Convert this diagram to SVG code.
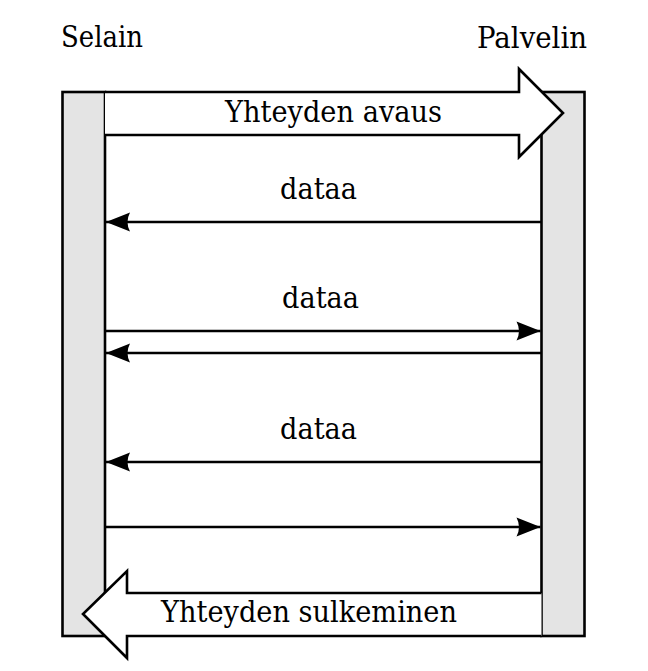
<svg xmlns="http://www.w3.org/2000/svg" width="648" height="671" viewBox="0 0 648 671">
<style>
  .t { font-family: 'DejaVu Serif', 'Liberation Serif', serif; font-size: 29px; fill: #000; }
  .bar { fill: #e4e4e4; stroke: #000; stroke-width: 2.6; }
  .ln { stroke: #000; stroke-width: 2.6; fill: none; }
  .big { fill: #fff; stroke: #000; stroke-width: 2.6; stroke-linejoin: miter; }
</style>
<defs>
  <marker id="ah" viewBox="-25 -10 26 20" refX="0" refY="0" markerWidth="26" markerHeight="20" markerUnits="userSpaceOnUse" orient="auto">
    <path d="M0,0 L-24,-9.5 Q-19,0 -24,9.5 Z" fill="#000"/>
  </marker>
</defs>
<g id="selain">
  <rect class="bar" x="62.5" y="92" width="42.5" height="544"/>
  <text class="t" x="61" y="47" textLength="82" lengthAdjust="spacingAndGlyphs">Selain</text>
</g>
<g id="palvelin">
  <rect class="bar" x="541.5" y="92" width="43" height="544"/>
  <text class="t" x="477" y="48" textLength="110" lengthAdjust="spacingAndGlyphs">Palvelin</text>
</g>
<g id="connectors">
  <g id="avaus">
    <path class="big" d="M105,92 L519,92 L519,69 L563,113 L519,157 L519,135 L105,135"/>
    <text class="t" x="225" y="122" textLength="217" lengthAdjust="spacingAndGlyphs">Yhteyden avaus</text>
  </g>
  <line class="ln" x1="541.5" y1="222" x2="106" y2="222" marker-end="url(#ah)"/>
  <text class="t" x="280" y="199" textLength="77" lengthAdjust="spacingAndGlyphs">dataa</text>
  <line class="ln" x1="105" y1="331" x2="540.5" y2="331" marker-end="url(#ah)"/>
  <text class="t" x="282" y="308" textLength="77" lengthAdjust="spacingAndGlyphs">dataa</text>
  <line class="ln" x1="541.5" y1="353" x2="106" y2="353" marker-end="url(#ah)"/>
  <line class="ln" x1="541.5" y1="462" x2="106" y2="462" marker-end="url(#ah)"/>
  <text class="t" x="280" y="439" textLength="77" lengthAdjust="spacingAndGlyphs">dataa</text>
  <line class="ln" x1="105" y1="527" x2="540.5" y2="527" marker-end="url(#ah)"/>
  <g id="sulkeminen">
    <path class="big" d="M541.5,593 L127,593 L127,571 L83,614 L127,658 L127,636 L541.5,636"/>
    <text class="t" x="161" y="622" textLength="296" lengthAdjust="spacingAndGlyphs">Yhteyden sulkeminen</text>
  </g>
</g>
</svg>
